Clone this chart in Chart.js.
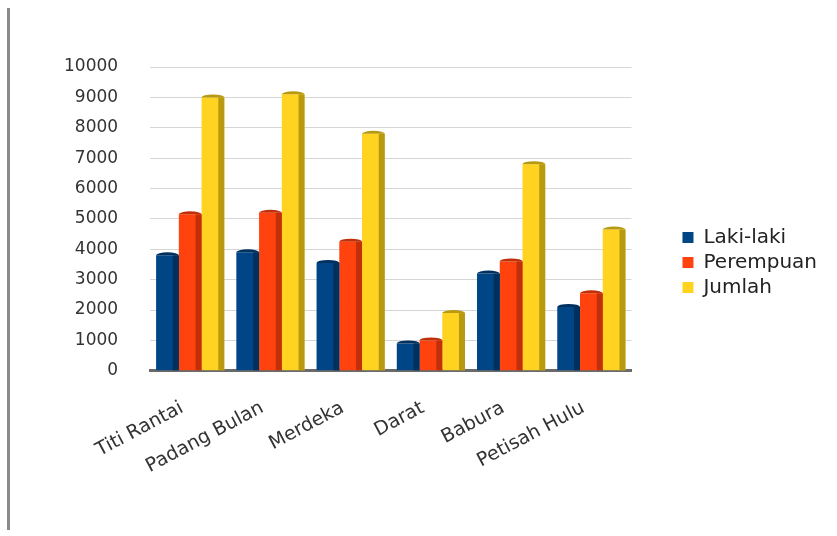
<!DOCTYPE html>
<html>
<head>
<meta charset="utf-8">
<script src="https://cdn.jsdelivr.net/npm/chart.js@4.4.1/dist/chart.umd.min.js"></script>
<style>
  html, body { margin: 0; padding: 0; background: #fff; }
  #wrap { position: relative; width: 837px; height: 536px; }
  #edge { position: absolute; left: 7px; top: 8px; width: 3px; height: 522px; background: #8a8a8a; }
  canvas { position: absolute; left: 0; top: 0; }
</style>
</head>
<body>
<div id="wrap">
  <div id="edge"></div>
  <canvas id="chart" width="837" height="536"></canvas>
</div>
<script>
// kelurahan
var kelurahan = ["Titi Rantai", "Padang Bulan", "Merdeka", "Darat", "Babura", "Petisah Hulu"];
var lakiLaki  = [3800, 3900, 3550, 900, 3200, 2100];
var perempuan = [5150, 5200, 4250, 1000, 3600, 2550];
var jumlah    = [9000, 9100, 7800, 1900, 6800, 4650];

var warna = ['#004586', '#ff420e', '#ffd320'];
var sisi  = ['#00305e', '#c2300a', '#b89a10'];

var huruf = 'DejaVu Sans, Verdana, sans-serif';

// dark right side on each bar, for the 3D look
var sisiBar = {
  id: 'sisiBar',
  afterDatasetsDraw: function(chart) {
    var ctx = chart.ctx;
    chart.data.datasets.forEach(function(ds, i) {
      var meta = chart.getDatasetMeta(i);
      meta.data.forEach(function(bar) {
        var w = bar.width;
        var sw = Math.round(w * 0.28);
        var right = bar.x + w / 2;
        ctx.save();
        ctx.fillStyle = sisi[i];
        ctx.fillRect(right - sw, bar.y, sw, bar.base - bar.y);
        ctx.beginPath();
        ctx.ellipse(bar.x, bar.y, w / 2, 3, 0, Math.PI, 2 * Math.PI);
        ctx.fill();
        ctx.restore();
      });
    });
  }
};

// legend sits a bit higher than the centre in the original
var naikLegend = {
  id: 'naikLegend',
  afterLayout: function(chart) {
    chart.legend.top -= 23;
    chart.legend.bottom -= 23;
  }
};

new Chart(document.getElementById('chart'), {
  type: 'bar',
  data: {
    labels: kelurahan,
    datasets: [
      { label: 'Laki-laki', data: lakiLaki, backgroundColor: warna[0] },
      { label: 'Perempuan', data: perempuan, backgroundColor: warna[1] },
      { label: 'Jumlah', data: jumlah, backgroundColor: warna[2] }
    ]
  },
  options: {
    responsive: false,
    animation: false,
    layout: { padding: { left: 32, right: 10, top: 67, bottom: 32 } },
    datasets: { bar: { categoryPercentage: 0.85, barPercentage: 1.0 } },
    scales: {
      x: {
        grid: { display: false, drawTicks: false },
        border: { color: '#6a6a6a', width: 3 },
        ticks: {
          minRotation: 28, maxRotation: 28,
          padding: 26,
          labelOffset: -8,
          color: '#333',
          font: { family: huruf, size: 19 }
        }
      },
      y: {
        min: 0, max: 10000,
        grid: { color: '#d6d6d6', drawTicks: false },
        border: { display: false },
        ticks: {
          stepSize: 1000,
          padding: 32,
          color: '#333',
          format: { useGrouping: false },
          font: { family: huruf, size: 17 }
        }
      },
      // empty axis, only keeps the gap between plot and legend
      gap: {
        position: 'right',
        grid: { display: false, drawTicks: false },
        border: { display: false },
        ticks: { display: false },
        afterFit: function(scale) { scale.width = 46; }
      }
    },
    plugins: {
      legend: {
        position: 'right',
        align: 'center',
        maxWidth: 200,
        labels: {
          boxWidth: 11, boxHeight: 11, padding: 5,
          color: '#222',
          font: { family: huruf, size: 20 }
        }
      },
      tooltip: { enabled: false }
    }
  },
  plugins: [sisiBar, naikLegend]
});
</script>
</body>
</html>
